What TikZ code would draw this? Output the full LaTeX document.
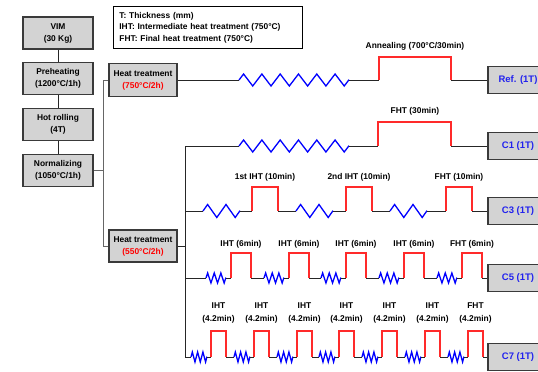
\documentclass[tikz,border=0pt]{standalone}
\usepackage{fontspec}
\setmainfont{Liberation Sans}
\usetikzlibrary{positioning,decorations.pathmorphing}
\definecolor{BoxGray}{HTML}{D3D3D3}
\definecolor{BoxEdge}{HTML}{3A3A3A}
\definecolor{SampleBlue}{HTML}{2222EE}
\definecolor{HeatRed}{HTML}{FF2A2A}

\begin{document}
\begin{tikzpicture}[x=1pt,y=-1pt,
    box/.style={draw=BoxEdge,line width=1.2pt,fill=BoxGray,minimum width=70pt,
      minimum height=32pt,align=center,inner sep=1pt,
      font=\fontsize{8.4}{12}\selectfont\bfseries},
    sample/.style={box,minimum width=60pt,minimum height=27pt,text=SampleBlue,
      font=\fontsize{9.5}{11}\selectfont\bfseries},
    note/.style={align=center,inner sep=0pt,font=\fontsize{8.4}{12.5}\selectfont\bfseries},
    wire/.style={draw=black!85,line width=0.9pt},
    heat/.style={draw=HeatRed,line width=1.1pt},
    wave/.style 2 args={draw=blue,line width=1.3pt,decorate,
      decoration={zigzag,segment length=#1,amplitude=#2}},
    node distance=12.5pt
  ]
    \useasboundingbox (0,0) rectangle (538,372);
    \fill[white] (0,0) rectangle (538,372);

    % process chain
    \node[box] (vim) at (58,33) {VIM\\(30 Kg)};
    \node[box,below=of vim] (preheat) {Preheating\\(1200°C/1h)};
    \node[box,below=of preheat] (rolling) {Hot rolling\\(4T)};
    \node[box,below=of rolling] (norm) {Normalizing\\(1050°C/1h)};
    \draw[wire] (vim) -- (preheat);
    \draw[wire] (preheat) -- (rolling);
    \draw[wire] (rolling) -- (norm);

    \node[box,minimum width=68pt,minimum height=33pt] (ht1) at (143,80)
      {Heat treatment\\\textcolor{red}{(750°C/2h)}};
    \node[box,minimum width=68pt] (ht2) at (143,246)
      {Heat treatment\\\textcolor{red}{(550°C/2h)}};
    \coordinate (bus) at (103,0);
    \coordinate (split) at (185,0);
    \draw[wire,black!60] (norm.east) -- (norm.east -| bus);
    \draw[wire,black!60] (ht1.west) -- (ht1.west -| bus) -- (ht2.west -| bus) -- (ht2.west);

    \node[draw=black,line width=0.8pt,fill=white,anchor=north west,text width=177pt,
      minimum height=42pt,inner xsep=6pt,align=left,
      font=\fontsize{8.4}{11.5}\selectfont\bfseries] (key) at (113,6)
      {T: Thickness (mm)\\IHT: Intermediate heat treatment (750°C)\\FHT: Final heat treatment (750°C)};

    % samples
    \node[sample] (ref) at (518,80) {Ref. (1T)};
    \node[sample] (c1) at (518,146) {C1 (1T)};
    \node[sample] (c3) at (518,211) {C3 (1T)};
    \node[sample] (c5) at (518,278) {C5 (1T)};
    \node[sample] (c7) at (518,357) {C7 (1T)};

    \draw[wire] (ht2.east) -- (ht2.east -| split);
    \draw[wire] (split |- c1.west) -- (split |- c7.west);

    % Ref.
    \draw[wire] (ht1.east) -- (239,80);
    \draw[wave={18.3pt}{6pt}] (239,80) -- (349,80);
    \draw[wire] (349,80) -- (379,80);
    \draw[heat] (379,80) |- (451,57) -- (451,80);
    \draw[wire] (451,80) -- (ref.west);
    \node[note] (anneal) at (415,46) {Annealing (700°C/30min)};

    % C1
    \draw[wire] (split |- c1.west) -- (239,146);
    \draw[wave={18.3pt}{6pt}] (239,146) -- (349,146);
    \draw[wire] (349,146) -- (378,146);
    \draw[heat] (378,146) |- (451,122) -- (451,146);
    \draw[wire] (451,146) -- (c1.west);
    \node[note] (fht1) at (415,111) {FHT (30min)};

    % C3
    \foreach \r/\t [remember=\r as \p (initially 159)] in
        {252/1st IHT (10min),346/2nd IHT (10min),446/FHT (10min)} {
      \draw[wire] (\p+26,211) -- (\p+44,211);
      \draw[wave={18.4pt}{6.5pt}] (\p+44,211) -- (\p+81,211);
      \draw[wire] (\p+81,211) -- (\r,211);
      \draw[heat] (\r,211) |- (\r+26,187) -- (\r+26,211);
      \node[note] at (\r+13,177) {\t};
    }
    \draw[wire] (472,211) -- (c3.west);

    % C5
    \foreach \r/\t [remember=\r as \p (initially 165)] in
        {231/IHT,289/IHT,346/IHT,404/IHT,462/FHT} {
      \draw[wire] (\p+20,278) -- (\r-25,278);
      \draw[wave={6.6pt}{5pt}] (\r-25,278) -- (\r-5,278);
      \draw[wire] (\r-5,278) -- (\r,278);
      \draw[heat] (\r,278) |- (\r+20,253) -- (\r+20,278);
      \node[note] at (\r+10,244) {\t{} (6min)};
    }
    \draw[wire] (482,278) -- (c5.west);

    % C7
    \foreach \r/\t [remember=\r as \p (initially 170)] in
        {211/IHT,254/IHT,297/IHT,339/IHT,382/IHT,425/IHT,468/FHT} {
      \draw[wire] (\p+15,357) -- (\r-20,357);
      \draw[wave={5.3pt}{5pt}] (\r-20,357) -- (\r-4,357);
      \draw[wire] (\r-4,357) -- (\r,357);
      \draw[heat] (\r,357) |- (\r+15,331) -- (\r+15,357);
      \node[note] at (\r+7.5,313) {\t\\(4.2min)};
    }
    \draw[wire] (483,357) -- (c7.west);
\end{tikzpicture}
\end{document}
